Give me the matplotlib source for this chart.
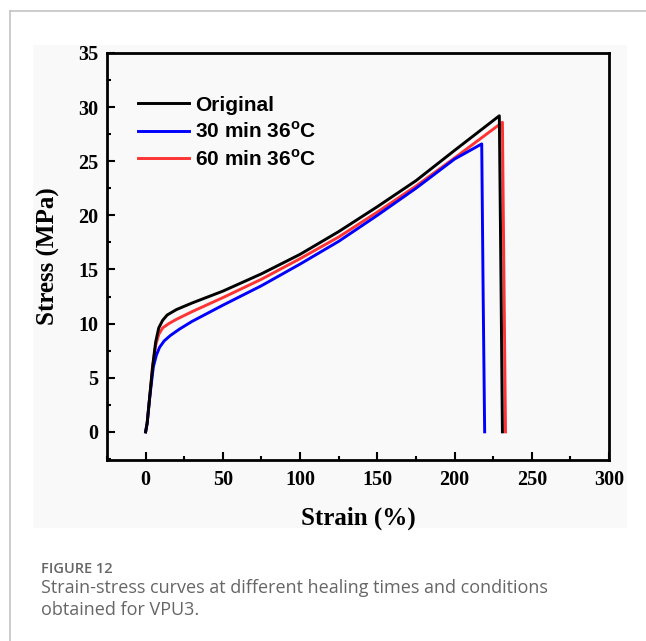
import matplotlib
matplotlib.use("Agg")
import matplotlib.pyplot as plt
from matplotlib.lines import Line2D
from matplotlib.patches import Rectangle
from matplotlib.ticker import MultipleLocator

plt.rcParams['mathtext.fontset'] = 'custom'
plt.rcParams['mathtext.rm'] = 'Liberation Sans'
plt.rcParams['mathtext.bf'] = 'Liberation Sans:bold'

# Curvas esfuerzo-deformación
strain_original = [0, 1, 2.5, 4.5, 6.5, 8.5, 11, 14, 20, 30, 50, 75, 100, 125, 150, 175, 200, 229, 230, 231]
stress_original = [0, 0.8, 3, 6, 8.3, 9.6, 10.3, 10.8, 11.3, 11.9, 13.0, 14.6, 16.4, 18.5, 20.8, 23.2, 26.0, 29.2, 15, 0]

strain_30min = [0, 1, 2.5, 5, 7, 9, 12, 16, 22, 30, 50, 75, 100, 125, 150, 175, 200, 217.6, 218.5, 219.5]
stress_30min = [0, 0.8, 3, 6, 7.1, 7.8, 8.4, 8.9, 9.5, 10.2, 11.7, 13.5, 15.5, 17.6, 20.0, 22.5, 25.2, 26.6, 13, 0]

strain_60min = [0, 1, 2.5, 4.5, 6.5, 8.5, 11, 15, 20, 30, 50, 75, 100, 125, 150, 175, 200, 231, 232, 233]
stress_60min = [0, 0.8, 3, 6, 8.0, 9.0, 9.6, 10.0, 10.4, 11.1, 12.4, 14.1, 16.0, 18.0, 20.3, 22.7, 25.3, 28.6, 14, 0]

etiquetas = ["Original", r"30 min 36$^{\mathbf{o}}$C", r"60 min 36$^{\mathbf{o}}$C"]
colores = ["black", "#0000ff", "#ff3333"]

fig = plt.figure(figsize=(6.46, 6.41), dpi=100)
fig.patch.set_facecolor("white")

# Fondo gris claro de la imagen y marco de la página
fig.add_artist(Rectangle((33 / 646, 1 - 528 / 641), (627 - 33) / 646, (528 - 45) / 641,
                         transform=fig.transFigure, facecolor="#f9f9f9", edgecolor="none", zorder=0))
fig.add_artist(Line2D([10 / 646, 1], [1 - 11 / 641, 1 - 11 / 641], color="#c4c4c4", lw=1.2))
fig.add_artist(Line2D([10 / 646, 10 / 646], [0, 1 - 11 / 641], color="#c4c4c4", lw=1.2))

ax = fig.add_axes([107 / 646, 1 - 460 / 641, (609 - 107) / 646, (460 - 53) / 641])
ax.set_facecolor("#f9f9f9")

# Orden de dibujo: rojo debajo, luego azul, negro encima
ax.plot(strain_60min, stress_60min, color=colores[2], lw=2.1, label=etiquetas[2], zorder=2)
ax.plot(strain_30min, stress_30min, color=colores[1], lw=2.1, label=etiquetas[1], zorder=3)
ax.plot(strain_original, stress_original, color=colores[0], lw=2.1, label=etiquetas[0], zorder=4)

ax.set_xlim(-25, 300)
ax.set_ylim(-2.6, 35)
ax.xaxis.set_major_locator(MultipleLocator(50))
ax.xaxis.set_minor_locator(MultipleLocator(25))
ax.yaxis.set_major_locator(MultipleLocator(5))
ax.yaxis.set_minor_locator(MultipleLocator(2.5))
ax.tick_params(which="both", direction="in", width=1.5)
ax.tick_params(which="major", length=6)
ax.tick_params(which="minor", length=3)
ax.tick_params(axis="x", pad=7)
ax.tick_params(axis="y", pad=6)
for s in ax.spines.values():
    s.set_linewidth(2)

for lbl in ax.get_xticklabels() + ax.get_yticklabels():
    lbl.set_fontfamily("Liberation Serif")
    lbl.set_fontweight("bold")
    lbl.set_fontsize(14.5)

ax.set_xlabel("Strain (%)", fontfamily="Liberation Serif", fontweight="bold", fontsize=18, labelpad=12)
ax.set_ylabel("Stress (MPa)", fontfamily="Liberation Serif", fontweight="bold", fontsize=18, labelpad=13)

handles, labels = ax.get_legend_handles_labels()
orden = [2, 1, 0]
leg = ax.legend([handles[i] for i in orden], [labels[i] for i in orden],
                loc="upper left", bbox_to_anchor=(0.062, 0.895), frameon=False,
                borderaxespad=0, borderpad=0, handlelength=2.45, handletextpad=0.3,
                labelspacing=0.32, prop={"family": "Liberation Sans", "weight": "bold", "size": 15})

# Pie de figura
fig.text(41 / 646, 1 - 569 / 641, "FIGURE 12", fontfamily="Open Sans", fontweight="semibold",
         fontsize=10.5, color="#666666", va="center")
fig.text(41 / 646, 1 - 588 / 641, "Strain-stress curves at different healing times and conditions",
         fontfamily="Open Sans", fontsize=13, color="#666666", va="center")
fig.text(41 / 646, 1 - 610 / 641, "obtained for VPU3.",
         fontfamily="Open Sans", fontsize=13, color="#666666", va="center")

fig.savefig("out.png", dpi=100)
